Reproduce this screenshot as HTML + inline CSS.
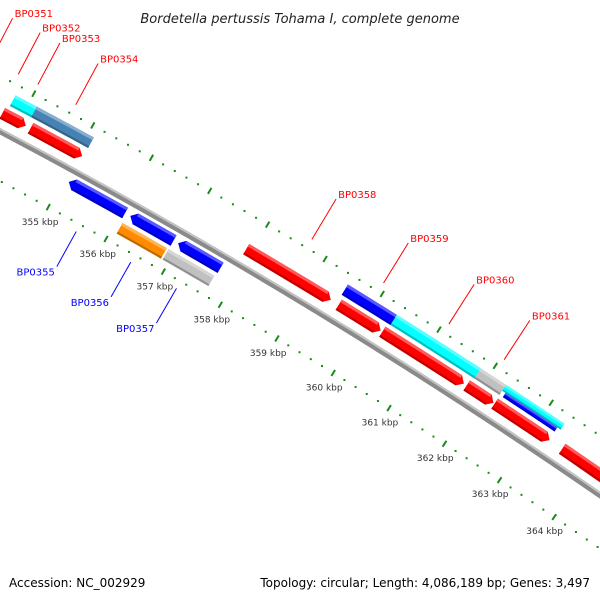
<!DOCTYPE html>
<html><head><meta charset="utf-8"><style>
html,body{margin:0;padding:0;background:#fff;overflow:hidden;}
svg{display:block;}
text{font-family:"DejaVu Sans","Liberation Sans",sans-serif;}
</style></head><body>
<svg id="map" width="600" height="600" viewBox="0 0 600 600" xmlns="http://www.w3.org/2000/svg">
<rect width="600" height="600" fill="#fff"/>
<text x="300" y="23" text-anchor="middle" font-size="13" font-style="italic" fill="#222">Bordetella pertussis Tohama I, complete genome</text>
<text x="9" y="587" font-size="12" fill="#000">Accession: NC_002929</text>
<text x="590" y="587" text-anchor="end" font-size="12" fill="#000">Topology: circular; Length: 4,086,189 bp; Genes: 3,497</text>
<g id="tracks"></g>
</svg>
<script>
// ---- data ----
const geneStart  = [352.6, 353.72, 353.77, 354.13, 354.2, 355.09, 356.15, 356.98, 356.1, 356.9, 357.91, 359.53, 359.49, 360.3, 360.35, 361.8, 361.84, 362.3, 362.29, 362.35, 363.52];
const geneEnd    = [353.62, 354.12, 354.13, 355.1, 355.08, 356.06, 356.9, 357.72, 356.87, 357.7, 359.39, 360.27, 360.35, 361.75, 361.84, 362.28, 362.29, 363.29, 363.34, 363.28, 366.0];
const geneTrack  = ["fi","fi","fo","fo","fi","r1","r1","r1","r2","r2","fi","fi","fo","fi","fo","fi","fo","fi","foU","foL","fi"];
const geneArrow  = ["R","R","N","N","R","L","L","L","N","N","R","R","N","R","N","R","N","R","N","N","R"];
const geneColor  = ["#ff0000","#ff0000","#00ffff","#4682b4","#ff0000","#0000ff","#0000ff","#0000ff","#ff8c00","#c0c0c0","#ff0000","#ff0000","#0000ff","#ff0000","#00ffff","#ff0000","#c0c0c0","#ff0000","#00ffff","#0000ff","#ff0000"];
const fwdLabels  = ["BP0351","BP0352","BP0353","BP0354","BP0358","BP0359","BP0360","BP0361"];
const fwdLabelKb = [353.2, 353.66, 353.99, 354.63, 358.68, 359.93, 361.08, 362.06];
const revLabels  = ["BP0355","BP0356","BP0357"];
const revLabelKb = [355.55, 356.5, 357.3];
const majorTicks = [350,351,352,353,354,355,356,357,358,359,360,361,362,363,364,365,366,367];
const tickLabels = ["355 kbp","356 kbp","357 kbp","358 kbp","359 kbp","360 kbp","361 kbp","362 kbp","363 kbp","364 kbp"];
const tickLabelKb = [355,356,357,358,359,360,361,362,363,364];

// ---- geometry (axis functions) ----
const CX=-2765, CY=5367, A0=-61.4, DEG_PER_KB=0.643, KB0=355;
function ang(kb){return (A0+(kb-KB0)*DEG_PER_KB)*Math.PI/180;}
function P(kb,r){const a=ang(kb);return [CX+r*Math.cos(a),CY+r*Math.sin(a)];}
const R_TOP=5970, R_BOT=5877, R_BB=5921;
const rows={fi:[5932,5944],fo:[5948,5960],foU:[5953,5960],foL:[5948,5953],r1:[5903,5915],r2:[5887,5899]};
const NS="http://www.w3.org/2000/svg";
const g=document.getElementById('tracks');
function pts(a){return a.map(p=>p[0].toFixed(2)+","+p[1].toFixed(2)).join(" ");}
function poly(points,fill,name,op){
  const e=document.createElementNS(NS,'polygon');
  e.setAttribute('points',pts(points));e.setAttribute('fill',fill);
  if(op!==undefined)e.setAttribute('fill-opacity',op);
  
  
  g.appendChild(e);return e;
}
function line(p1,p2,stroke,w,name){
  const e=document.createElementNS(NS,'line');
  e.setAttribute('x1',p1[0]);e.setAttribute('y1',p1[1]);e.setAttribute('x2',p2[0]);e.setAttribute('y2',p2[1]);
  e.setAttribute('stroke',stroke);e.setAttribute('stroke-width',w);
  
  
  g.appendChild(e);return e;
}
function text(x,y,s,fill,size,anchor,name){
  const e=document.createElementNS(NS,'text');
  e.setAttribute('x',x);e.setAttribute('y',y);e.setAttribute('fill',fill);
  e.setAttribute('font-size',size);e.setAttribute('text-anchor',anchor);
  e.textContent=s;
  
  
  g.appendChild(e);return e;
}
function band(k0,k1,r0,r1){
  const n=Math.max(1,Math.ceil((k1-k0)/0.1));
  const outer=[],inner=[];
  for(let j=0;j<=n;j++){const k=k0+(k1-k0)*j/n;inner.push(P(k,r0));outer.push(P(k,r1));}
  return inner.concat(outer.reverse());
}

// backbone
poly(band(347,369,R_BB-3,R_BB+3),"#8a8a8a","backbone");
poly(band(347,369,R_BB+1,R_BB+3),"#c4c4c4","backbone-highlight");

// ticks
for(let k=349; k<=368.001; k+=0.2){
  const kk=Math.round(k*10)/10;
  const isMajor=majorTicks.indexOf(Math.round(kk))>=0 && Math.abs(kk-Math.round(kk))<0.01;
  [R_TOP,R_BOT].forEach((r,i)=>{
    if(isMajor){
      line(P(kk,r-3.5),P(kk,r+3.5),"#1a8a1a",2,i?"tick-major-reverse":"tick-major-forward");
    } else {
      const c=P(kk,r);
      const e=document.createElementNS(NS,'rect');
      e.setAttribute('x',(c[0]-1).toFixed(2));e.setAttribute('y',(c[1]-1).toFixed(2));
      e.setAttribute('width',2);e.setAttribute('height',2);e.setAttribute('fill','#1a8a1a');
      
      
      g.appendChild(e);
    }
  });
}
tickLabels.forEach((s,i)=>{
  const c=P(tickLabelKb[i],R_BOT-17);
  text(c[0],c[1]+3,s,"#333",9,"middle","tick-label");
});

// genes
function shade(col,f){
  const n=parseInt(col.slice(1),16);let r=n>>16,gg=(n>>8)&255,b=n&255;
  if(f>0){r+= (255-r)*f;gg+=(255-gg)*f;b+=(255-b)*f;}else{r*=1+f;gg*=1+f;b*=1+f;}
  return "rgb("+Math.round(r)+","+Math.round(gg)+","+Math.round(b)+")";
}
geneStart.forEach((s,i)=>{
  const e=geneEnd[i],row=rows[geneTrack[i]],r0=row[0],r1=row[1],rm=(r0+r1)/2,h=0.09,col=geneColor[i];
  let shape, hs=s, he=e;
  if(geneArrow[i]==="R"){shape=[P(s,r0),P(e-h,r0),P(e,rm),P(e-h,r1),P(s,r1)];he=e-h;}
  else if(geneArrow[i]==="L"){shape=[P(s,rm),P(s+h,r0),P(e,r0),P(e,r1),P(s+h,r1)];hs=s+h;}
  else shape=band(s,e,r0,r1);
  poly(shape,col,"gene-"+i);
  const th=Math.min(3,(r1-r0)/3);
  poly(band(hs,he,r1-th,r1),shade(col,0.35),"gene-highlight-"+i);
  poly(band(hs,he,r0,r0+th*0.7),shade(col,-0.25),"gene-shadow-"+i);
});

// callouts
fwdLabels.forEach((s,i)=>{
  const a=P(fwdLabelKb[i],5980),b=P(fwdLabelKb[i],6027);
  line(a,b,"#ff0000",1,"callout-line");
  text(b[0]+2,b[1]-1,s,"#ff0000",10,"start","gene-label-"+s);
});
revLabels.forEach((s,i)=>{
  const a=P(revLabelKb[i],5869),b=P(revLabelKb[i],5829);
  line(a,b,"#0000ff",1,"callout-line");
  text(b[0]-2,b[1]+9,s,"#0000ff",10,"end","gene-label-"+s);
});
</script>
</body></html>
